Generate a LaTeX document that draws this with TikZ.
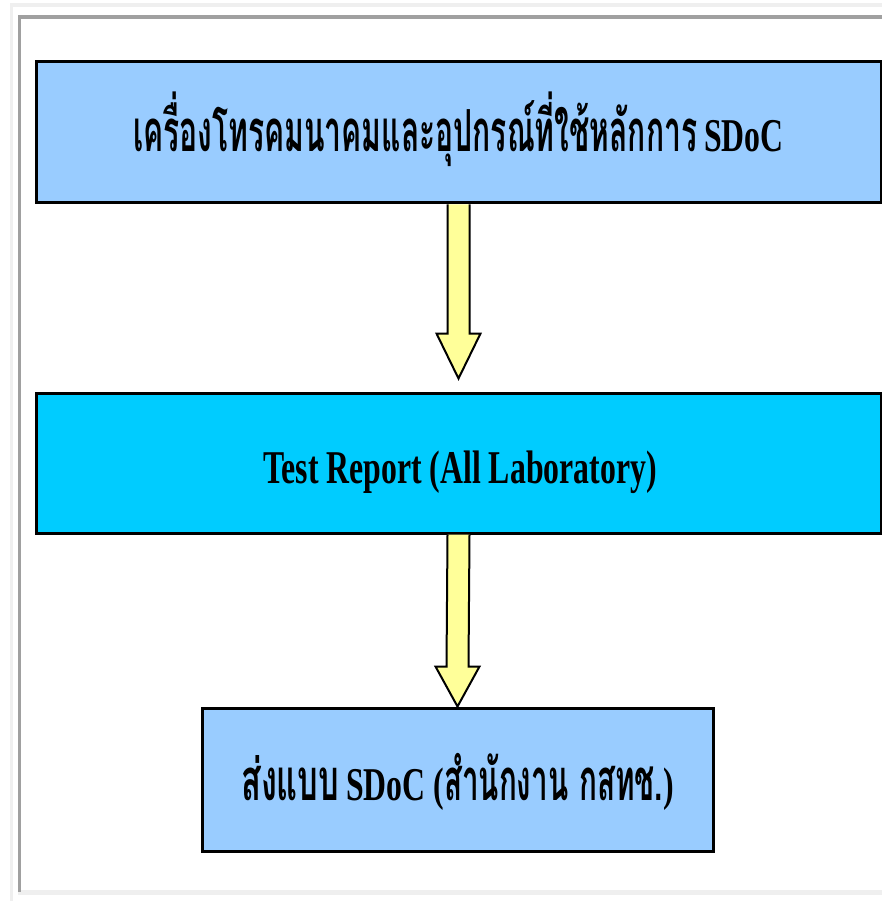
\documentclass[tikz,border=0pt]{standalone}
\usepackage{fontspec}
\setmainfont{Liberation Serif}
\newfontfamily\thaifont[Script=Thai]{Loma}
\usetikzlibrary{calc}
\definecolor{boxblue}{HTML}{99CCFF}
\definecolor{boxcyan}{HTML}{00CCFF}
\definecolor{arrowyellow}{HTML}{FFFF99}
\definecolor{framelight}{HTML}{EFEFEF}
\definecolor{framedark}{HTML}{A0A0A0}
\newcommand{\thbf}[2]{\resizebox{#1}{\height}{\thaifont\bfseries\fontsize{58}{64}\selectfont #2}}
\newcommand{\enbf}[1]{\scalebox{0.676}[1]{\bfseries\fontsize{47}{54}\selectfont #1}}
\begin{document}
\begin{tikzpicture}[x=1pt,y=-1pt,
  flowbox/.style={draw=black, line width=3pt, inner sep=0pt, rectangle},
  bigarrow/.style={draw=black, fill=arrowyellow, line width=2pt, line join=miter},
  label/.style={anchor=base, inner sep=0pt}]
\useasboundingbox (0,0) rectangle (882,901);
% frame
\fill[framelight] (10,3) rectangle (882,7);
\fill[framelight] (10,3) rectangle (13,901);
\fill[framelight] (18,890) rectangle (882,895);
\fill[framedark] (18,15) rectangle (882,19);
\fill[framedark] (18,15) rectangle (21,892);
% boxes
\node[flowbox, fill=boxblue, minimum width=845pt, minimum height=141pt] (b1) at (458.5,132.5) {};
\node[flowbox, fill=boxcyan, minimum width=845pt, minimum height=140pt] (b2) at (458.5,463) {};
\node[flowbox, fill=boxblue, minimum width=511pt, minimum height=143pt] (b3) at (457.5,779.5) {};
% arrows
\draw[bigarrow] ($(b1.south)+(-11,0)$) -- ($(b2.north)+(-11,-58)$) -- ($(b2.north)+(-22,-58)$) -- ($(b2.north)+(0,-13)$) -- ($(b2.north)+(22,-58)$) -- ($(b2.north)+(11,-58)$) -- ($(b1.south)+(11,0)$);
\draw[bigarrow] ($(b2.south)+(-11,0)$) -- ($(b3.north)+(-11,-40)$) -- ($(b3.north)+(-22,-40)$) -- (b3.north) -- ($(b3.north)+(22,-40)$) -- ($(b3.north)+(11,-40)$) -- ($(b2.south)+(11,0)$);
% texts
\node[label] (t1) at (458.5,152) {\thbf{564pt}{เครื่องโทรคมนาคมและอุปกรณ์ที่ใช้หลักการ}\hspace{7pt}\enbf{SDoC}};
\node[label] (t2) at (460,483) {\enbf{Test Report (All Laboratory)}};
\node[label] (t3) at (457.5,800) {\thbf{98pt}{ส่งแบบ}\hspace{7pt}\enbf{SDoC}\hspace{8pt}\enbf{(}\thbf{124pt}{สำนักงาน}\hspace{11pt}\thbf{84pt}{กสทช.}\enbf{)}};
\end{tikzpicture}
\end{document}
